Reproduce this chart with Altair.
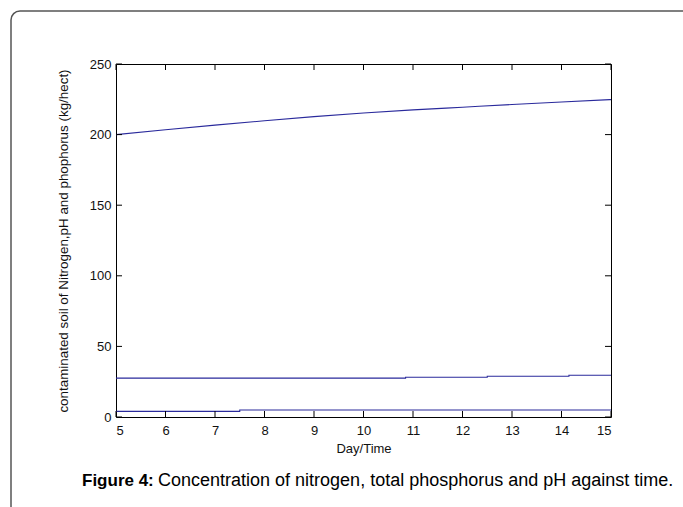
import altair as alt
import pandas as pd

# ---- data ----
days = [5, 6, 7, 8, 9, 10, 11, 12, 13, 14, 15]
nitrogen = [200.0, 203.4, 206.7, 209.8, 212.7, 215.3, 217.5, 219.4, 221.3, 223.1, 224.8]

phos_day = [5, 10.85, 12.5, 14.15, 15]
phos_val = [27.5, 28.2, 28.9, 29.6, 29.6]

ph_day = [5, 7.5, 15]
ph_val = [4.0, 5.0, 5.0]

x_ticks = [5, 6, 7, 8, 9, 10, 11, 12, 13, 14, 15]
y_ticks = [0, 50, 100, 150, 200, 250]

x_title = "Day/Time"
y_title = "contaminated soil of Nitrogen,pH and phophorus (kg/hect)"
cap_bold = "Figure 4:"
cap_rest = "Concentration of nitrogen, total phosphorus and pH against time."

W, H = 495, 353
LINE = "#2a2a9c"
FONT = "Liberation Sans"

xs = alt.Scale(domain=[5, 15], nice=False, zero=False)
ys = alt.Scale(domain=[0, 250], nice=False)

df_n = pd.DataFrame({"day": days, "val": nitrogen})
df_p = pd.DataFrame({"day": phos_day, "val": phos_val})
df_h = pd.DataFrame({"day": ph_day, "val": ph_val})
df_xt = pd.DataFrame({"t": x_ticks})
df_yt = pd.DataFrame({"t": y_ticks})
one = pd.DataFrame({"a": [0]})

base_x = alt.X("day:Q", scale=xs,
               axis=alt.Axis(values=x_ticks, ticks=False, domain=False, grid=False,
                             labelFont=FONT, labelFontSize=13, labelColor="#111111",
                             labelPadding=7, title=x_title, titleFont=FONT,
                             titleFontSize=13, titleFontWeight="normal",
                             titleColor="#111111", titlePadding=5))
base_y = alt.Y("val:Q", scale=ys,
               axis=alt.Axis(values=y_ticks, ticks=False, domain=False, grid=False,
                             labelFont=FONT, labelFontSize=13, labelColor="#111111",
                             labelPadding=5, title=y_title, titleFont=FONT,
                             titleFontSize=13.4, titleFontWeight="normal",
                             titleColor="#111111", titlePadding=19))

border = alt.Chart(one).mark_rect(
    fillOpacity=0, stroke="#555555", strokeWidth=1.5, cornerRadius=9
).encode(x=alt.value(11 - 116), y=alt.value(11 - 64), x2=alt.value(720), y2=alt.value(560))

n_line = alt.Chart(df_n).mark_line(color=LINE, strokeWidth=1.1, interpolate="monotone").encode(
    x=base_x, y=base_y)
p_line = alt.Chart(df_p).mark_line(color=LINE, strokeWidth=1.1, interpolate="step-after").encode(
    x=alt.X("day:Q", scale=xs), y=alt.Y("val:Q", scale=ys))
h_line = alt.Chart(df_h).mark_line(color=LINE, strokeWidth=1.1, interpolate="step-after").encode(
    x=alt.X("day:Q", scale=xs), y=alt.Y("val:Q", scale=ys))

tx_b = alt.Chart(df_xt).mark_rule(color="black", strokeWidth=1).encode(
    x=alt.X("t:Q", scale=xs), y=alt.value(H), y2=alt.value(H - 6))
tx_t = alt.Chart(df_xt).mark_rule(color="black", strokeWidth=1).encode(
    x=alt.X("t:Q", scale=xs), y=alt.value(0), y2=alt.value(6))
ty_l = alt.Chart(df_yt).mark_rule(color="black", strokeWidth=1).encode(
    y=alt.Y("t:Q", scale=ys), x=alt.value(0), x2=alt.value(6))
ty_r = alt.Chart(df_yt).mark_rule(color="black", strokeWidth=1).encode(
    y=alt.Y("t:Q", scale=ys), x=alt.value(W), x2=alt.value(W - 6))

cap1 = alt.Chart(one).mark_text(
    text=cap_bold, font=FONT, fontSize=17, fontWeight="bold", align="left",
    baseline="middle", color="black"
).encode(x=alt.value(82 - 116), y=alt.value(481 - 64))
cap2 = alt.Chart(one).mark_text(
    text=cap_rest, font=FONT, fontSize=18, align="left", baseline="middle", color="black"
).encode(x=alt.value(158 - 116), y=alt.value(481 - 64))

chart = alt.layer(border, n_line, p_line, h_line, tx_b, tx_t, ty_l, ty_r, cap1, cap2).properties(
    width=W, height=H,
    autosize=alt.AutoSizeParams(type="none"),
    padding={"left": 116, "top": 64, "right": 683 - 116 - W, "bottom": 507 - 64 - H},
    background="white",
).configure_view(stroke="black", strokeWidth=1)

chart.save("out.html", embed_options={"renderer": "svg", "actions": False})
